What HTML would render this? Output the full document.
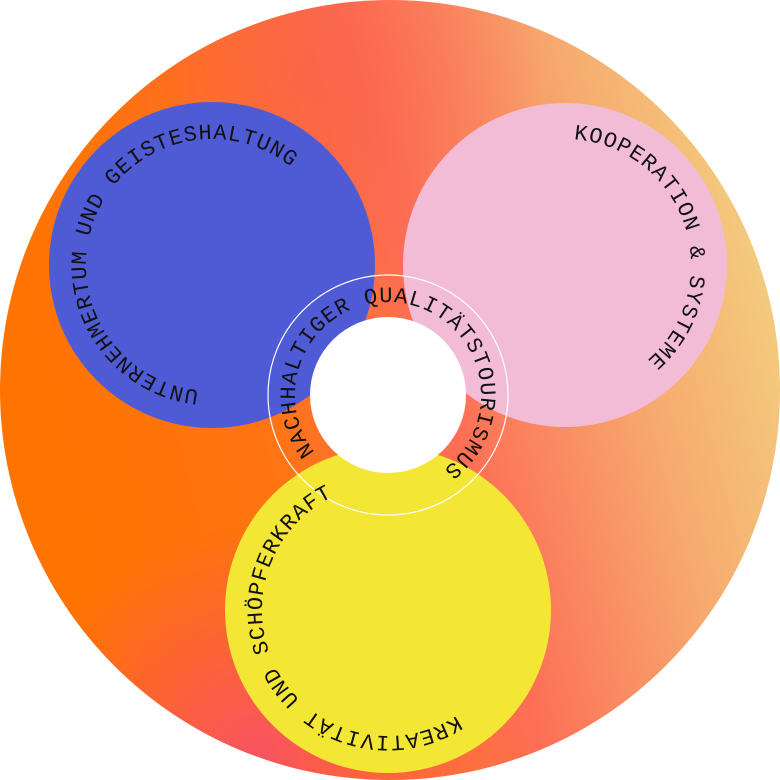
<!DOCTYPE html>
<html><head><meta charset="utf-8"><style>
html,body{margin:0;padding:0;background:#fff;width:780px;height:780px;overflow:hidden}
svg{display:block}
text{font-family:"Liberation Mono","DejaVu Sans Mono",monospace;font-size:22px;fill:#111;letter-spacing:1px}
</style></head><body>
<svg width="780" height="780" viewBox="0 0 780 780" xmlns="http://www.w3.org/2000/svg">
<defs>
<linearGradient id="g1" x1="0.05" y1="0.65" x2="1" y2="0.4">
<stop offset="0" stop-color="#ff7400"/>
<stop offset="0.3" stop-color="#ff7410"/>
<stop offset="0.55" stop-color="#fd6e55"/>
<stop offset="0.8" stop-color="#f7a86e"/>
<stop offset="1" stop-color="#f3cc7e"/>
</linearGradient>
<radialGradient id="g2" cx="0.33" cy="0.97" r="0.3">
<stop offset="0" stop-color="#f8506a" stop-opacity="0.9"/>
<stop offset="1" stop-color="#f8506a" stop-opacity="0"/>
</radialGradient>
<radialGradient id="g3" cx="0.4" cy="0.1" r="0.3">
<stop offset="0" stop-color="#fb5f4a" stop-opacity="0.6"/>
<stop offset="1" stop-color="#fb5f4a" stop-opacity="0"/>
</radialGradient>
<path id="pb"/><path id="pp"/><path id="py"/><path id="pc"/>
</defs>
<circle cx="390" cy="390" r="390" fill="url(#g1)"/>
<circle cx="390" cy="390" r="390" fill="url(#g2)"/>
<circle cx="390" cy="390" r="390" fill="url(#g3)"/>
<circle cx="212" cy="265" r="163" fill="#4f5bd5"/>
<circle cx="565" cy="265" r="162" fill="#f2bcd6"/>
<circle cx="388" cy="610" r="163" fill="#f4e635"/>
<circle cx="388" cy="395" r="120" fill="none" stroke="#fff" stroke-width="1.2"/>
<circle cx="388" cy="395" r="78" fill="#fff"/>
<text><textPath href="#pb">UNTERNEHMERTUM UND GEISTESHALTUNG</textPath></text>
<text><textPath href="#pp">KOOPERATION &amp; SYSTEME</textPath></text>
<text><textPath href="#py">KREATIVITÄT UND SCHÖPFERKRAFT</textPath></text>
<text><textPath href="#pc">NACHHALTIGER QUALITÄTSTOURISMUS</textPath></text>
</svg>
<script>
function arc(id,cx,cy,r,a){a=a*Math.PI/180;var x1=cx+r*Math.cos(a),y1=cy+r*Math.sin(a),x2=cx-r*Math.cos(a),y2=cy-r*Math.sin(a);
document.getElementById(id).setAttribute('d','M'+x1+' '+y1+' A'+r+' '+r+' 0 1 1 '+x2+' '+y2+' A'+r+' '+r+' 0 1 1 '+x1+' '+y1);}
arc('pb',212,265,126,96);
arc('pp',565,265,126,-86);
arc('py',388,610,126,57);
arc('pc',388,395,93,142);
</script>
</body></html>
